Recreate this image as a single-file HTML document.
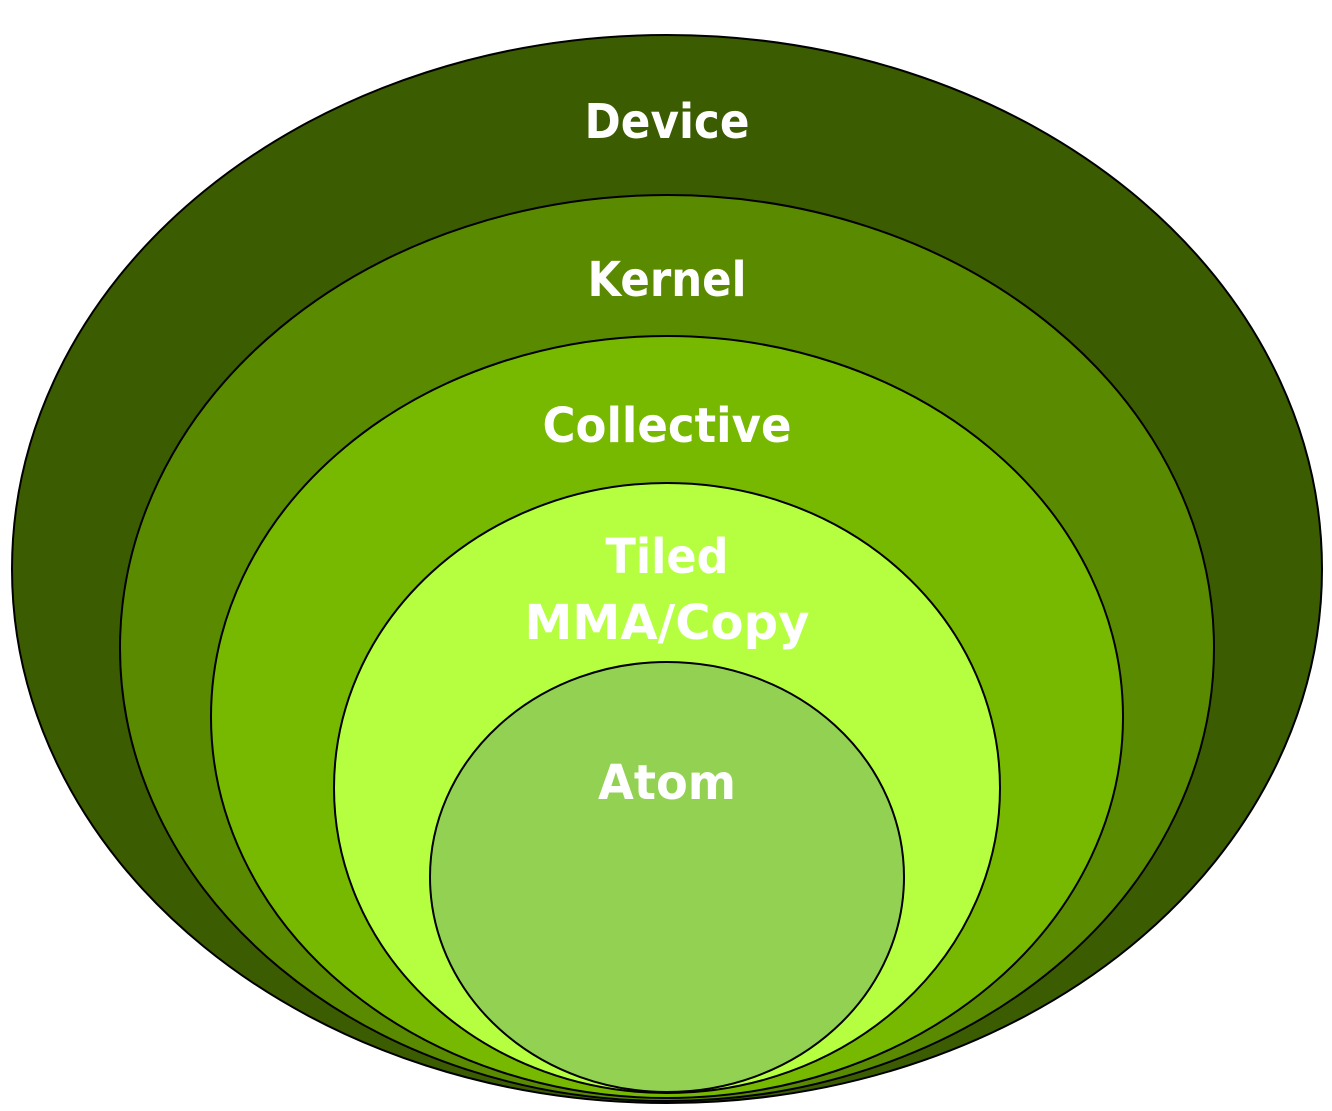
<!DOCTYPE html>
<html><head><style>
html,body{margin:0;padding:0;background:#fff;}
svg{display:block;}
text{font-family:"DejaVu Sans","Liberation Sans",sans-serif;font-weight:bold;fill:#fff;text-anchor:middle;}
</style></head><body>
<svg width="1332" height="1111" viewBox="0 0 1332 1111">
<ellipse cx="667" cy="569" rx="655" ry="534" fill="#3b5c00" stroke="#000" stroke-width="2"/>
<ellipse cx="667" cy="648" rx="547" ry="453" fill="#5a8a00" stroke="#000" stroke-width="2"/>
<ellipse cx="667" cy="717" rx="456" ry="381" fill="#76b900" stroke="#000" stroke-width="2"/>
<ellipse cx="667" cy="788" rx="333" ry="305" fill="#b6ff40" stroke="#000" stroke-width="2"/>
<ellipse cx="667" cy="877" rx="237" ry="215" fill="#93d153" stroke="#000" stroke-width="2"/>
<text x="667" y="138" font-size="48" textLength="165" lengthAdjust="spacingAndGlyphs">Device</text>
<text x="667" y="296" font-size="48" textLength="159" lengthAdjust="spacingAndGlyphs">Kernel</text>
<text x="667" y="442" font-size="48" textLength="249" lengthAdjust="spacingAndGlyphs">Collective</text>
<text x="667" y="573" font-size="48" textLength="123" lengthAdjust="spacingAndGlyphs">Tiled</text>
<text x="667" y="639" font-size="48" textLength="285" lengthAdjust="spacingAndGlyphs">MMA/Copy</text>
<text x="667" y="799" font-size="48" textLength="138" lengthAdjust="spacingAndGlyphs">Atom</text>
</svg>
</body></html>
